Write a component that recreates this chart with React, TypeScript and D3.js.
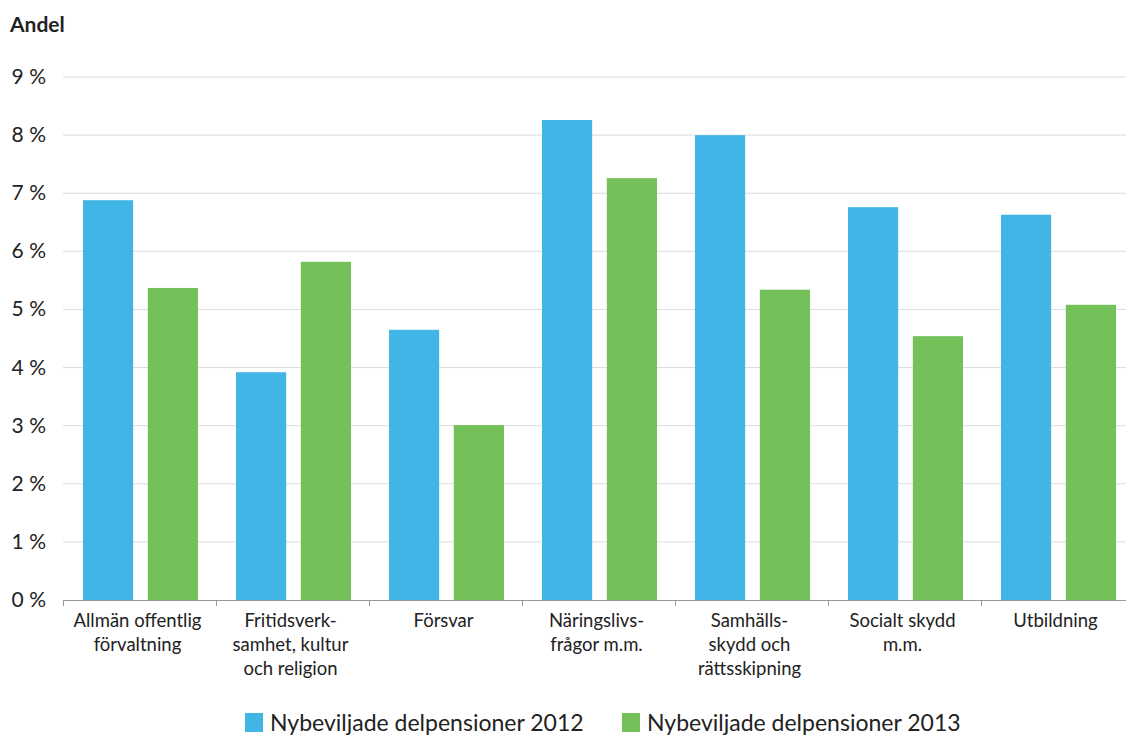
import React, { useEffect, useRef } from "react";
import * as d3 from "d3";

const categories: string[][] = [
  ["Allmän offentlig", "förvaltning"],
  ["Fritidsverk-", "samhet, kultur", "och religion"],
  ["Försvar"],
  ["Näringslivs-", "frågor m.m."],
  ["Samhälls-", "skydd och", "rättsskipning"],
  ["Socialt skydd", "m.m."],
  ["Utbildning"],
];
const series2012 = [6.88, 3.92, 4.65, 8.26, 8.0, 6.76, 6.63];
const series2013 = [5.37, 5.82, 3.01, 7.26, 5.34, 4.54, 5.08];
const seriesNames = ["Nybeviljade delpensioner 2012", "Nybeviljade delpensioner 2013"];
const yTicks = [0, 1, 2, 3, 4, 5, 6, 7, 8, 9];
const colors = ["#41b6e6", "#74c15a"];

const W = 1126;
const H = 738;
const FONT = "Lato, 'Open Sans', sans-serif";

export default function App() {
  const ref = useRef<SVGSVGElement | null>(null);
  useEffect(() => {
    const svg = d3.select(ref.current);
    svg.selectAll("*").remove();
    const left = 63, right = 1134, top = 77, bottom = 600;
    const x = d3.scaleBand<number>().domain(d3.range(categories.length)).range([left, right]).paddingInner(0).paddingOuter(0);
    const inner = d3.scaleBand<number>().domain([0, 1]).range([20, x.bandwidth() - 18]).paddingInner(0.226);
    const y = d3.scaleLinear().domain([0, 9]).range([bottom, top]);

    svg.append("text").attr("x", 10).attr("y", 32).attr("font-family", FONT).attr("font-weight", 700)
      .attr("font-size", 21).attr("fill", "#222").text("Andel");

    const g = svg.append("g");
    yTicks.forEach((t) => {
      if (t > 0) g.append("line").attr("x1", left).attr("x2", right).attr("y1", y(t)).attr("y2", y(t))
        .attr("stroke", "#dcdcdc").attr("stroke-width", 1);
      g.append("text").attr("x", 46).attr("y", y(t) + 7).attr("text-anchor", "end")
        .attr("font-family", FONT).attr("font-size", 21).attr("fill", "#222").text(`${t} %`);
    });

    [series2012, series2013].forEach((s, si) => {
      g.selectAll(null).data(s).enter().append("rect")
        .attr("x", (_d, i) => (x(i) as number) + (inner(si) as number))
        .attr("width", inner.bandwidth())
        .attr("y", (d) => y(d))
        .attr("height", (d) => y(0) - y(d))
        .attr("fill", colors[si]);
    });

    g.append("line").attr("x1", left).attr("x2", right).attr("y1", bottom + 0.5).attr("y2", bottom + 0.5)
      .attr("stroke", "#999");
    d3.range(categories.length + 1).forEach((i) => {
      const xx = i < categories.length ? (x(i) as number) : right;
      g.append("line").attr("x1", xx + 0.5).attr("x2", xx + 0.5).attr("y1", bottom).attr("y2", bottom + 6).attr("stroke", "#999");
    });

    categories.forEach((lines, i) => {
      const cx = (x(i) as number) + x.bandwidth() / 2 - 2;
      lines.forEach((ln, li) => {
        g.append("text").attr("x", cx).attr("y", 627 + li * 24).attr("text-anchor", "middle")
          .attr("font-family", FONT).attr("font-size", 18.5).attr("fill", "#222").text(ln);
      });
    });

    const legX = [245, 622];
    seriesNames.forEach((n, i) => {
      g.append("rect").attr("x", legX[i]).attr("y", 713).attr("width", 18).attr("height", 19).attr("fill", colors[i]);
      g.append("text").attr("x", legX[i] + 25).attr("y", 731).attr("font-family", FONT)
        .attr("font-size", 23).attr("fill", "#222").text(n);
    });
  }, []);
  return (
    <div style={{ position: "absolute", left: 0, top: 0 }}>
      <svg ref={ref} width={W} height={H} style={{ display: "block", background: "#fff" }} />
    </div>
  );
}
